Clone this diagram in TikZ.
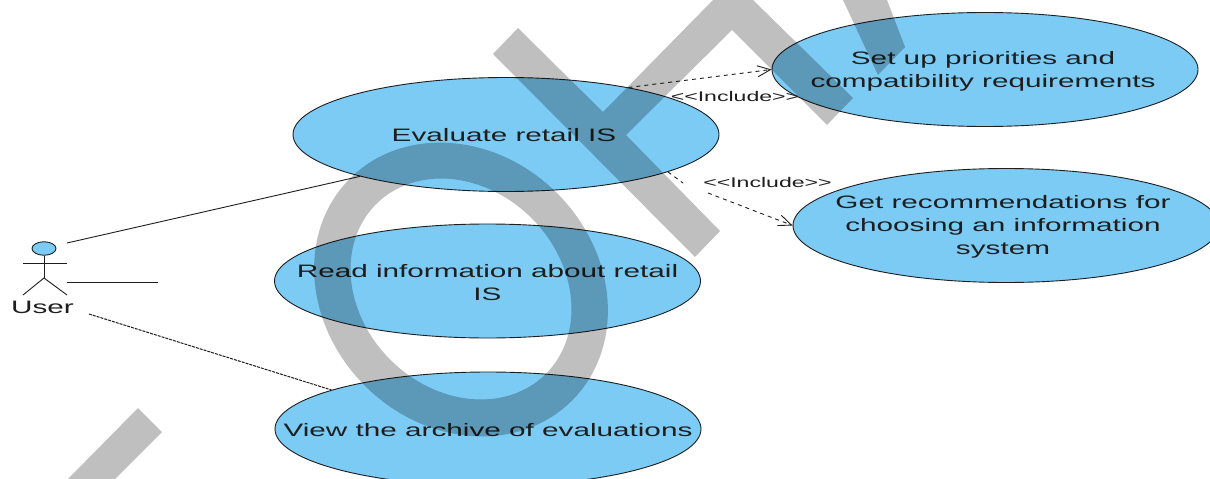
\documentclass[tikz,border=0pt]{standalone}
\usepackage{fontspec}
\setmainfont[FakeStretch=1.65]{Liberation Sans}
\usetikzlibrary{shapes.geometric,arrows.meta}
\definecolor{ucblue}{HTML}{7BCBF5}
\definecolor{ucline}{HTML}{1E1E1E}
\tikzset{
  usecase/.style={ellipse,draw=ucline,line width=0.9pt,fill=ucblue,inner sep=0pt,
    minimum width=426pt,minimum height=114pt},
  uctext/.style={align=center,text=ucline,inner sep=0pt,yshift=-1.5pt,
    font=\fontsize{18}{23}\selectfont},
  assoc/.style={draw=ucline,line width=0.9pt},
  assocdash/.style={draw=ucline,line width=1pt,dash pattern=on 3pt off 1pt},
  incl/.style={draw=ucline,line width=0.9pt,dash pattern=on 4pt off 4pt},
  inclhead/.style={-{Straight Barb[length=13pt,width=11pt,line width=0.9pt]}},
  incltext/.style={inner sep=0pt,text=ucline,font=\fontsize{14}{16}\selectfont},
  limb/.style={draw=ucline,line width=0.9pt},
  mark wm/.style={fill=black,fill opacity=.25}
}
\begin{document}
\begin{tikzpicture}[x=1pt,y=-1pt]
\useasboundingbox (0,0) rectangle (1210,479);
\clip (0,0) rectangle (1210,479);
\fill[white] (0,0) rectangle (1210,479);

% use cases
\node[usecase,label={[uctext,xshift=-2pt,yshift=1pt]center:Evaluate retail IS}] (eval) at (506,134.5) {};
\node[usecase,label={[uctext]center:Read information about retail\\IS}] (read) at (487.5,281) {};
\node[usecase,label={[uctext]center:View the archive of evaluations}] (view) at (488,429) {};
\node[usecase,label={[uctext,xshift=-2pt]center:Set up priorities and\\compatibility requirements}] (set) at (985,69.5) {};
\node[usecase,label={[uctext,xshift=-3pt]center:Get recommendations for\\choosing an information\\system}] (get) at (1006,225.5) {};

% actor
\node[ellipse,draw=ucline,line width=0.9pt,fill=ucblue,minimum width=24pt,minimum height=13.5pt,inner sep=0pt] (head) at (44,248.5) {};
\coordinate (hip) at (44,278);
\coordinate (armL) at (23,263);
\coordinate (armR) at (67,263);
\coordinate (footL) at (23,295);
\coordinate (footR) at (67,295);
\draw[limb] (head.south) -- (hip);
\draw[limb] (armL) -- (armR);
\draw[limb] (footL) -- (hip) -- (footR);
\node[inner sep=0pt,text=ucline,font=\fontsize{18}{20}\selectfont] (user) at (42.5,307) {User};

% associations
\coordinate (u1) at (67,243);
\coordinate (u2) at (67,282);
\coordinate (u2end) at (158,282);
\coordinate (u3) at (89,314);
\draw[assoc] (u1) -- (eval.196.2);
\draw[assoc] (u2) -- (u2end);
\draw[assocdash] (u3) -- (view.166.1);

% includes
\coordinate (gapA) at (683,183);
\coordinate (gapB) at (708,193);
\draw[incl,inclhead] (eval.21) -- (set.180);
\draw[incl] (eval.-13.8) -- (gapA);
\draw[incl,inclhead] (gapB) -- (get.180);
\node[incltext] (inc1) at (735,96) {{<}{<}Include{>}{>}};
\node[incltext] (inc2) at (767.5,182) {{<}{<}Include{>}{>}};

% watermark
\fill[mark wm] (518,28) -- (603,112) -- (713,0) -- (753,0) -- (853,98) -- (827,125)
  -- (732,30) -- (626,135) -- (720,231) -- (695,257) -- (493,54) -- cycle;
\fill[mark wm] (843,0) -- (887,0) -- (905,47) -- (878,75) -- cycle;
\fill[mark wm] (138,408) -- (162,432) -- (115,479) -- (68,479) -- cycle;
\fill[mark wm,even odd rule]
  (461,289.5) ellipse [x radius=157pt,y radius=136pt,rotate=-45]
  (461,289) ellipse [x radius=120pt,y radius=100pt,rotate=-45];
\end{tikzpicture}
\end{document}
